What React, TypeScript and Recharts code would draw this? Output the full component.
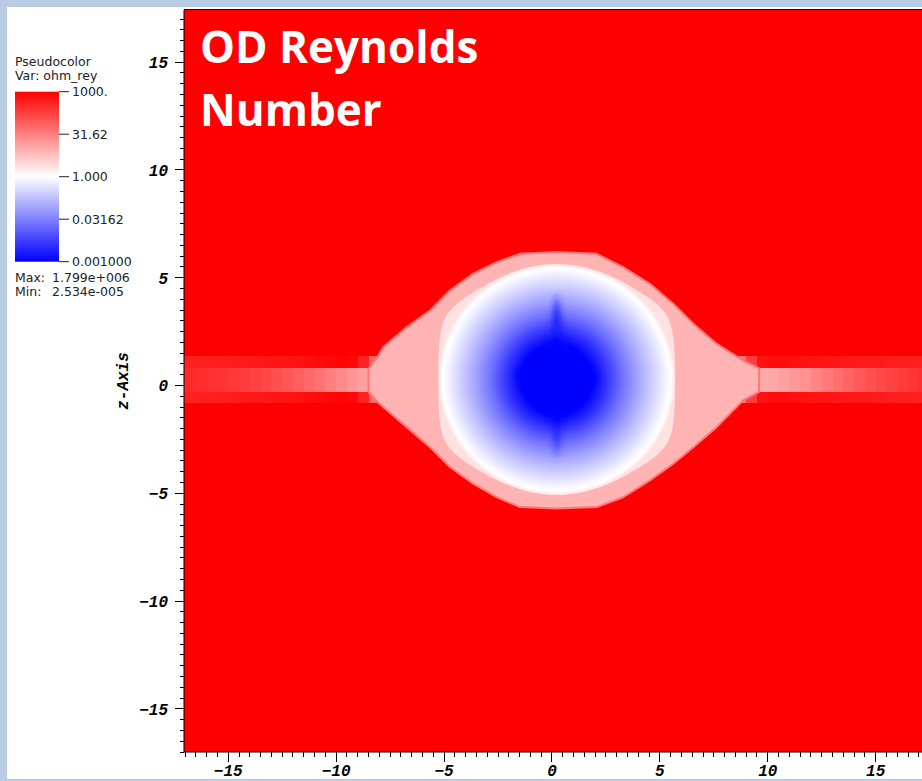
import { ScatterChart, Scatter, XAxis, YAxis, ReferenceArea, Curve } from 'recharts'

// plot window (data units)
const X_DOMAIN: [number, number] = [-17.05, 17.98]
const Y_DOMAIN: [number, number] = [-17.0, 17.42]

// values are stored as log10(ohm_rey)
// jet band left of the bubble: cell edges, core row and rim rows
const bandLeftEdges = [-17.05, -16.5, -16, -15.5, -15, -14.5, -14, -13.5, -13, -12.5, -12, -11.5, -11, -10.5, -10, -9.5, -9, -8.5, -8]
const bandLeftCore = [2.5, 2.47, 2.44, 2.4, 2.35, 2.3, 2.24, 2.17, 2.08, 1.98, 1.88, 1.77, 1.65, 1.52, 1.38, 1.25, 1.12, 1.0]
const bandLeftRim = [2.62, 2.63, 2.64, 2.66, 2.68, 2.7, 2.72, 2.74, 2.76, 2.78, 2.8, 2.83, 2.88, 2.92, 2.95, 2.9, 2.6, 1.8]

// jet band right of the bubble
const bandRightEdges = [8.5, 9, 9.5, 10, 10.5, 11, 11.5, 12, 12.5, 13, 13.5, 14, 14.5, 15, 15.5, 16, 16.5, 17, 17.5, 17.98]
const bandRightCore = [0.95, 0.95, 1.0, 1.05, 1.12, 1.2, 1.3, 1.45, 1.58, 1.7, 1.82, 1.95, 2.05, 2.15, 2.22, 2.3, 2.38, 2.45, 2.5]
const bandRightRim = [1.6, 2.3, 2.8, 2.85, 2.85, 2.82, 2.8, 2.78, 2.76, 2.74, 2.72, 2.7, 2.7, 2.68, 2.66, 2.65, 2.64, 2.62, 2.6]

// band rows (y ranges)
const coreRowY: [number, number] = [-0.29, 0.8]
const rimTopY: [number, number] = [0.8, 1.37]
const rimBottomY: [number, number] = [-0.83, -0.29]

// outline of the pink lens around the bubble
const lensX = [-8.5, -8.1, -7.82, -6.73, -5.65, -4.73, -3.65, -2.56, -1.48, 0.22, 2.07, 3.3, 4.54, 5.62, 6.55, 7.63, 8.86, 9.6, 9.6, 8.86, 7.63, 6.55, 5.62, 4.54, 3.3, 2.07, 0.22, -1.48, -2.56, -3.65, -4.73, -5.65, -6.73, -7.82, -8.1, -8.5]
const lensY = [0.8, 1.3, 1.78, 2.71, 3.48, 4.41, 5.19, 5.72, 6.11, 6.19, 6.11, 5.49, 4.72, 3.79, 2.87, 1.94, 1.16, 0.8, -0.29, -0.69, -1.93, -2.86, -3.63, -4.4, -5.18, -5.64, -5.71, -5.64, -5.18, -4.55, -3.78, -2.86, -1.93, -1.0, -0.75, -0.29]
const lensLevel = 0.9

// outer edge of the white ring
const ringX = [5.72, 5.68, 5.3, 4.2, 2.32, 0.22, -1.88, -3.75, -4.86, -5.25, -5.28, -5.25, -4.86, -3.75, -1.88, 0.22, 2.32, 4.2, 5.3, 5.68]
const ringY = [0.28, 2.4, 3.5, 4.3, 5.36, 5.78, 5.36, 4.3, 3.5, 2.4, 0.28, -1.9, -2.95, -3.75, -4.8, -5.22, -4.8, -3.75, -2.95, -1.9]

// radial profile inside the ring (fraction of ring radius -> level)
const ringStops = [0, 0.3, 0.42, 0.55, 0.68, 0.8, 0.88, 0.93, 0.965, 1]
const ringLevels = [-3, -3, -2.4, -1.7, -1.1, -0.6, -0.3, -0.1, 0, 0.35]

// deep blue core and its vertical streak
const coreX = [0.22, 2.2, 0.22, -1.75]
const coreY = [2.4, 0.4, -1.9, 0.5]
const streakX = [0.22, 0.75, 0.22, -0.3]
const streakY = [4.3, 1.0, -3.4, 1.0]

// colour bar
const legendLabels = ['1000.', '31.62', '1.000', '0.03162', '0.001000']
const legendLevels = [3, 1.5, 0, -1.5, -3]

const levelColor = (level: number) => {
  const t = Math.max(-3, Math.min(3, level)) / 3
  if (t >= 0) {
    const g = Math.round(255 * (1 - t))
    return `rgb(255,${g},${g})`
  }
  const c = Math.round(255 * (1 + t))
  return `rgb(${c},${c},255)`
}

const steps = (from: number, to: number, step: number) => {
  const out: number[] = []
  for (let v = from; v <= to + 1e-9; v += step) out.push(Math.round(v * 10) / 10)
  return out
}
// minor ticks every half unit, labelled every 5
const xTicks = steps(-17, 17.5, 0.5)
const yTicks = steps(-17, 17, 0.5)

const toPoints = (xs: number[], ys: number[]) => xs.map((x, i) => ({ x, y: ys[i] }))
const lensPts = toPoints(lensX, lensY)
const ringPts = toPoints(ringX, ringY)
const corePts = toPoints(coreX, coreY)
const streakPts = toPoints(streakX, streakY)

const tickFont = {
  fontFamily: '"Liberation Mono", monospace',
  fontWeight: 700,
  fontStyle: 'italic' as const,
  fontSize: 16,
}

const fmtTick = (v: number) => (v < 0 ? '\u2212' + Math.abs(v) : String(v))
const isMajor = (v: number) => Math.abs(v % 5) < 1e-9

const XTick = (props: any) => {
  const { x, y, payload } = props
  const v = payload.value
  const major = isMajor(v)
  return (
    <g>
      <line x1={x} x2={x} y1={y} y2={y + (major ? 10 : 5)} stroke="#000" shapeRendering="crispEdges" />
      {major && (
        <text x={x} y={y + 24} textAnchor="middle" fill="#000" style={tickFont}>
          {fmtTick(v)}
        </text>
      )}
    </g>
  )
}

const YTick = (props: any) => {
  const { x, y, payload } = props
  const v = payload.value
  const major = isMajor(v)
  return (
    <g>
      <line x1={x} x2={x - (major ? 9 : 4)} y1={y} y2={y} stroke="#000" shapeRendering="crispEdges" />
      {major && (
        <text x={x - 16} y={y} dy="0.36em" textAnchor="end" fill="#000" style={tickFont}>
          {fmtTick(v)}
        </text>
      )}
    </g>
  )
}

const noDot = () => <g />

const bandCells = (edges: number[], levels: number[], rows: [number, number], key: string) =>
  levels.map((lv, i) => (
    <ReferenceArea
      key={`${key}-${i}`}
      x1={edges[i]}
      x2={edges[i + 1]}
      y1={rows[0]}
      y2={rows[1]}
      fill={levelColor(lv)}
      fillOpacity={1}
      stroke="none"
      shapeRendering="crispEdges"
    />
  ))

const legendFont = { fontFamily: '"DejaVu Sans", sans-serif', fontSize: 12.5, fill: '#222' }

const App = () => {
  return (
    <div
      style={{
        position: 'absolute',
        left: 0,
        top: 0,
        width: 922,
        height: 781,
        overflow: 'hidden',
        background: '#fff',
      }}
    >
      <div style={{ position: 'absolute', left: 0, top: 0 }}>
        <ScatterChart width={940} height={781} margin={{ top: 10, right: 0, bottom: 28, left: 183 }}>
          <defs>
            <radialGradient id="ringFill" cx="50%" cy="50%" r="50%">
              {ringStops.map((s, i) => (
                <stop key={i} offset={s} stopColor={levelColor(ringLevels[i])} />
              ))}
            </radialGradient>
            <filter id="soft" x="-60%" y="-60%" width="220%" height="220%">
              <feGaussianBlur stdDeviation="3.5" />
            </filter>
            <filter id="softer" x="-60%" y="-60%" width="220%" height="220%">
              <feGaussianBlur stdDeviation="3" />
            </filter>
          </defs>
          <XAxis
            type="number"
            dataKey="x"
            domain={X_DOMAIN}
            allowDataOverflow
            ticks={xTicks}
            interval={0}
            height={1}
            tickSize={0}
            tickMargin={0}
            tick={<XTick />}
            axisLine={{ stroke: '#000' }}
          />
          <YAxis
            type="number"
            dataKey="y"
            domain={Y_DOMAIN}
            allowDataOverflow
            ticks={yTicks}
            interval={0}
            width={1}
            tickSize={0}
            tickMargin={0}
            tick={<YTick />}
            axisLine={{ stroke: '#000' }}
          />
          <ReferenceArea
            x1={X_DOMAIN[0]}
            x2={X_DOMAIN[1]}
            y1={Y_DOMAIN[0]}
            y2={Y_DOMAIN[1]}
            fill="#ff0000"
            fillOpacity={1}
            stroke="none"
          />
          {bandCells(bandLeftEdges, bandLeftCore, coreRowY, 'lc')}
          {bandCells(bandLeftEdges, bandLeftRim, rimTopY, 'lt')}
          {bandCells(bandLeftEdges, bandLeftRim, rimBottomY, 'lb')}
          {bandCells(bandRightEdges, bandRightCore, coreRowY, 'rc')}
          {bandCells(bandRightEdges, bandRightRim, rimTopY, 'rt')}
          {bandCells(bandRightEdges, bandRightRim, rimBottomY, 'rb')}
          <Scatter
            data={lensPts}
            isAnimationActive={false}
            shape={noDot}
            legendType="none"
            line={(p: any) => (
              <Curve
                points={p.points}
                type="linearClosed"
                fill={levelColor(lensLevel)}
                stroke={levelColor(1.6)}
                strokeWidth={2}
                strokeLinejoin="round"
              />
            )}
          />
          <Scatter
            data={ringPts}
            isAnimationActive={false}
            shape={noDot}
            legendType="none"
            line={(p: any) => (
              <Curve points={p.points} type="basisClosed" fill="url(#ringFill)" stroke="none" />
            )}
          />
          <Scatter
            data={streakPts}
            isAnimationActive={false}
            shape={noDot}
            legendType="none"
            line={(p: any) => (
              <Curve points={p.points} type="linearClosed" fill={levelColor(-2.6)} stroke="none" filter="url(#softer)" />
            )}
          />
          <Scatter
            data={corePts}
            isAnimationActive={false}
            shape={noDot}
            legendType="none"
            line={(p: any) => (
              <Curve points={p.points} type="linearClosed" fill={levelColor(-3)} stroke="none" filter="url(#soft)" />
            )}
          />
        </ScatterChart>
      </div>

      <svg
        width={922}
        height={781}
        style={{ position: 'absolute', left: 0, top: 0, pointerEvents: 'none' }}
      >
        <defs>
          <linearGradient id="barFill" x1="0" y1="0" x2="0" y2="1">
            {legendLevels.map((lv, i) => (
              <stop key={i} offset={i / (legendLevels.length - 1)} stopColor={levelColor(lv)} />
            ))}
          </linearGradient>
        </defs>

        {/* slide frame */}
        <rect x={0} y={0} width={922} height={7} fill="#b8cce4" />
        <rect x={0} y={0} width={7} height={781} fill="#b8cce4" />
        <rect x={0} y={779} width={922} height={2} fill="#b8cce4" />
        <line x1={184} x2={922} y1={9.5} y2={9.5} stroke="#000" />

        {/* title */}
        <g style={{ fontFamily: '"Open Sans", sans-serif', fontWeight: 700, fontSize: 44 }} fill="#fff">
          <text x={200} y={63}>OD Reynolds</text>
          <text x={200} y={126}>Number</text>
        </g>

        {/* axis title */}
        <text
          x={122.5}
          y={381}
          transform="rotate(-90 122.5 381)"
          textAnchor="middle"
          dy="0.36em"
          fill="#000"
          style={tickFont}
        >
          z-Axis
        </text>

        {/* legend */}
        <text x={15} y={65.5} style={legendFont}>Pseudocolor</text>
        <text x={15} y={80} style={legendFont}>Var: ohm_rey</text>
        <rect x={15} y={91.7} width={44} height={170} fill="url(#barFill)" />
        {legendLabels.map((lab, i) => {
          const ty = 91.7 + (i * 170) / (legendLabels.length - 1)
          return (
            <g key={lab}>
              <line x1={59} x2={69} y1={ty} y2={ty} stroke="#222" />
              <text x={72} y={ty} dy="0.36em" style={legendFont}>
                {lab}
              </text>
            </g>
          )
        })}
        <text x={15} y={281.5} style={legendFont}>Max:</text>
        <text x={52} y={281.5} style={legendFont}>1.799e+006</text>
        <text x={15} y={295.5} style={legendFont}>Min:</text>
        <text x={52} y={295.5} style={legendFont}>2.534e-005</text>
      </svg>
    </div>
  )
}

export default App
